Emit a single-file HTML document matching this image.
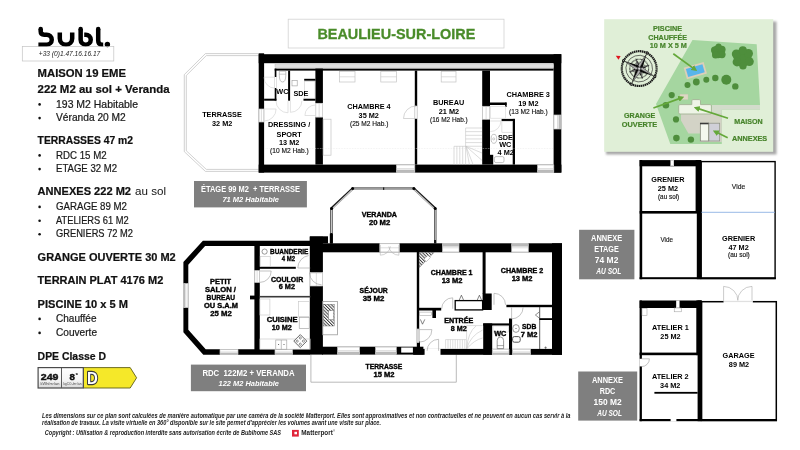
<!DOCTYPE html>
<html><head><meta charset="utf-8"><title>BEAULIEU-SUR-LOIRE</title>
<style>
html,body{margin:0;padding:0;background:#fff;}
body{width:800px;height:450px;overflow:hidden;position:relative;font-family:"Liberation Sans",sans-serif;}
svg{position:absolute;left:0;top:0;will-change:transform;}
text{font-family:"Liberation Sans",sans-serif;}
</style></head><body>
<svg width="800" height="450" viewBox="0 0 800 450">
<rect width="800" height="450" fill="#fff"/>
<g id="logo">
<path d="M40.7 28.95 V31.6 Q40.7 34.65 44.2 34.65 H46.7 A5.05 5.05 0 0 1 46.7 44.75 H38.4" fill="none" stroke="#000" stroke-width="4.5" stroke-linecap="butt"/>
<circle cx="40.7" cy="28.95" r="2.25" fill="#000"/>
<path d="M59.8 32.4 V38.55 A6.2 6.2 0 0 0 72.2 38.55 V32.4" fill="none" stroke="#000" stroke-width="4.5" />
<path d="M80.65 28.95 V39.7 A5.05 5.05 0 1 0 85.7 34.65 H84.2" fill="none" stroke="#000" stroke-width="4.5" />
<circle cx="80.65" cy="28.95" r="2.25" fill="#000"/>
<path d="M98.2 28.95 V40.6 Q98.2 44.75 102 44.75 H103.2" fill="none" stroke="#000" stroke-width="4.5" />
<circle cx="98.2" cy="28.95" r="2.25" fill="#000"/>
<circle cx="107.4" cy="44.5" r="2.7" fill="#000"/>
</g>
<rect x="22.3" y="46.4" width="91.5" height="14.6" fill="none" stroke="#c4c4c4" stroke-width="0.7"/>
<text x="38.80" y="55.90" font-size="6.4" font-weight="normal" font-style="italic" fill="#222" textLength="61.50" lengthAdjust="spacingAndGlyphs" >+33 (0)1.47.16.16.17</text>
<text x="37.60" y="77.30" font-size="11.2" font-weight="bold" font-style="normal" fill="#111" textLength="88.40" lengthAdjust="spacingAndGlyphs"  stroke="#111" stroke-width="0.22">MAISON 19 EME</text>
<text x="37.60" y="93.00" font-size="11.2" font-weight="bold" font-style="normal" fill="#111" textLength="132.00" lengthAdjust="spacingAndGlyphs"  stroke="#111" stroke-width="0.22">222 M2 au sol + Veranda</text>
<circle cx="39.6" cy="104.40" r="1.3" fill="#111"/>
<text x="56.00" y="107.50" font-size="10.3" font-weight="normal" font-style="normal" fill="#1a1a1a" textLength="82.00" lengthAdjust="spacingAndGlyphs"  stroke="#1a1a1a" stroke-width="0.22">193 M2 Habitable</text>
<circle cx="39.6" cy="118.10" r="1.3" fill="#111"/>
<text x="56.00" y="121.20" font-size="10.3" font-weight="normal" font-style="normal" fill="#1a1a1a" textLength="69.80" lengthAdjust="spacingAndGlyphs"  stroke="#1a1a1a" stroke-width="0.22">Véranda 20 M2</text>
<text x="37.60" y="144.00" font-size="11.2" font-weight="bold" font-style="normal" fill="#111" textLength="95.40" lengthAdjust="spacingAndGlyphs"  stroke="#111" stroke-width="0.22">TERRASSES 47 m2</text>
<circle cx="39.6" cy="155.40" r="1.3" fill="#111"/>
<text x="56.00" y="158.50" font-size="10.3" font-weight="normal" font-style="normal" fill="#1a1a1a" textLength="50.60" lengthAdjust="spacingAndGlyphs"  stroke="#1a1a1a" stroke-width="0.22">RDC 15 M2</text>
<circle cx="39.6" cy="169.10" r="1.3" fill="#111"/>
<text x="56.00" y="172.20" font-size="10.3" font-weight="normal" font-style="normal" fill="#1a1a1a" textLength="61.00" lengthAdjust="spacingAndGlyphs"  stroke="#1a1a1a" stroke-width="0.22">ETAGE 32 M2</text>
<text x="37.60" y="195.30" font-size="11.2" font-weight="bold" font-style="normal" fill="#111" textLength="93.40" lengthAdjust="spacingAndGlyphs"  stroke="#111" stroke-width="0.22">ANNEXES 222 M2</text>
<text x="135.00" y="195.30" font-size="11" font-weight="normal" font-style="normal" fill="#111" textLength="31.00" lengthAdjust="spacingAndGlyphs" >au sol</text>
<circle cx="39.6" cy="206.90" r="1.3" fill="#111"/>
<text x="56.00" y="210.00" font-size="10.3" font-weight="normal" font-style="normal" fill="#1a1a1a" textLength="71.00" lengthAdjust="spacingAndGlyphs"  stroke="#1a1a1a" stroke-width="0.22">GARAGE 89 M2</text>
<circle cx="39.6" cy="220.70" r="1.3" fill="#111"/>
<text x="56.00" y="223.80" font-size="10.3" font-weight="normal" font-style="normal" fill="#1a1a1a" textLength="72.70" lengthAdjust="spacingAndGlyphs"  stroke="#1a1a1a" stroke-width="0.22">ATELIERS 61 M2</text>
<circle cx="39.6" cy="234.30" r="1.3" fill="#111"/>
<text x="56.00" y="237.40" font-size="10.3" font-weight="normal" font-style="normal" fill="#1a1a1a" textLength="77.00" lengthAdjust="spacingAndGlyphs"  stroke="#1a1a1a" stroke-width="0.22">GRENIERS 72 M2</text>
<text x="37.60" y="261.00" font-size="11.2" font-weight="bold" font-style="normal" fill="#111" textLength="138.10" lengthAdjust="spacingAndGlyphs"  stroke="#111" stroke-width="0.22">GRANGE OUVERTE 30 M2</text>
<text x="37.60" y="284.00" font-size="11.2" font-weight="bold" font-style="normal" fill="#111" textLength="125.70" lengthAdjust="spacingAndGlyphs"  stroke="#111" stroke-width="0.22">TERRAIN PLAT 4176 M2</text>
<text x="37.60" y="307.80" font-size="11.2" font-weight="bold" font-style="normal" fill="#111" textLength="90.40" lengthAdjust="spacingAndGlyphs"  stroke="#111" stroke-width="0.22">PISCINE 10 x 5 M</text>
<circle cx="39.6" cy="318.90" r="1.3" fill="#111"/>
<text x="56.00" y="322.00" font-size="10.3" font-weight="normal" font-style="normal" fill="#1a1a1a" textLength="40.50" lengthAdjust="spacingAndGlyphs"  stroke="#1a1a1a" stroke-width="0.22">Chauffée</text>
<circle cx="39.6" cy="332.90" r="1.3" fill="#111"/>
<text x="56.00" y="336.00" font-size="10.3" font-weight="normal" font-style="normal" fill="#1a1a1a" textLength="41.00" lengthAdjust="spacingAndGlyphs"  stroke="#1a1a1a" stroke-width="0.22">Couverte</text>
<text x="37.60" y="359.50" font-size="11.2" font-weight="bold" font-style="normal" fill="#111" textLength="68.40" lengthAdjust="spacingAndGlyphs"  stroke="#111" stroke-width="0.22">DPE Classe D</text>
<g id="dpe">
<path d="M83.5 367.6 H130.2 L136.6 377.8 L130.2 388 H83.5 Z" fill="#f5e829" stroke="#5f5e18" stroke-width="0.9" />
<defs><linearGradient id="dg" x1="0" y1="0" x2="0" y2="1"><stop offset="0" stop-color="#fff"/><stop offset="0.6" stop-color="#f6f6f6"/><stop offset="1" stop-color="#d9d9d9"/></linearGradient></defs>
<rect x="38.1" y="367.6" width="45.2" height="20.4" fill="url(#dg)" stroke="#4a4a4a" stroke-width="1.2"/>
<line x1="61.5" y1="368" x2="61.5" y2="387.8" stroke="#4a4a4a" stroke-width="0.9"/>
<text x="40.80" y="379.90" font-size="8.9" font-weight="bold" font-style="normal" fill="#111" textLength="17.60" lengthAdjust="spacingAndGlyphs"  stroke="#111" stroke-width="0.4">249</text>
<text x="69.40" y="379.90" font-size="8.9" font-weight="bold" font-style="normal" fill="#111" textLength="5.40" lengthAdjust="spacingAndGlyphs"  stroke="#111" stroke-width="0.4">8</text>
<text x="75.40" y="377.00" font-size="5.4" font-weight="bold" font-style="normal" fill="#111" textLength="2.60" lengthAdjust="spacingAndGlyphs" >*</text>
<text x="40.50" y="385.00" font-size="2.8" font-weight="normal" font-style="normal" fill="#444" textLength="19.00" lengthAdjust="spacingAndGlyphs" >kWh/m²/an</text>
<text x="63.50" y="385.00" font-size="2.8" font-weight="normal" font-style="normal" fill="#444" textLength="18.00" lengthAdjust="spacingAndGlyphs" >kgCO₂/m²/an</text>
<text x="87" y="384.4" font-size="17.2" font-weight="bold" fill="#fff" stroke="#3a3a3a" stroke-width="2.3" stroke-linejoin="round" textLength="10.8" lengthAdjust="spacingAndGlyphs" paint-order="stroke">D</text>
</g>
<text x="42.00" y="417.90" font-size="6.5" font-weight="bold" font-style="italic" fill="#222" textLength="528.50" lengthAdjust="spacingAndGlyphs" >Les dimensions sur ce plan sont calculées de manière automatique par une caméra de la société Matterport. Elles sont approximatives et non contractuelles et ne peuvent en aucun cas servir à la</text>
<text x="42.00" y="425.40" font-size="6.5" font-weight="bold" font-style="italic" fill="#222" textLength="339.00" lengthAdjust="spacingAndGlyphs" >réalisation de travaux. La visite virtuelle en 360° disponible sur le site permet d'apprécier les volumes avant une visite sur place.</text>
<text x="44.80" y="435.20" font-size="6.5" font-weight="bold" font-style="italic" fill="#222" textLength="236.20" lengthAdjust="spacingAndGlyphs" >Copyright : Utilisation &amp; reproduction interdite sans autorisation écrite de Bublhome SAS</text>
<rect x="292" y="429.9" width="6.8" height="6.7" fill="#e0253a"/>
<rect x="294.4" y="431.8" width="2.6" height="2.5" fill="#fff"/>
<text x="301.30" y="435.10" font-size="6.5" font-weight="bold" font-style="normal" fill="#222" textLength="31.50" lengthAdjust="spacingAndGlyphs" >Matterport</text>
<text x="333.00" y="431.80" font-size="2.6" font-weight="normal" font-style="normal" fill="#222" textLength="2.00" lengthAdjust="spacingAndGlyphs" >®</text>
<rect x="288.2" y="19.2" width="215.8" height="28.8" fill="#fff" stroke="#d2d2d2" stroke-width="0.8"/>
<text x="317.40" y="38.70" font-size="15.3" font-weight="bold" font-style="normal" fill="#4a8c2a" textLength="158.00" lengthAdjust="spacingAndGlyphs"  stroke="#4a8c2a" stroke-width="0.3">BEAULIEU-SUR-LOIRE</text>
<rect x="194.00" y="181.00" width="112.90" height="26.40" fill="#7f7f7f" />
<text x="201.00" y="192.10" font-size="8.2" font-weight="bold" font-style="normal" fill="#fff" textLength="99.00" lengthAdjust="spacingAndGlyphs" >ÉTAGE 99 M2  + TERRASSE</text>
<text x="222.40" y="202.30" font-size="8.1" font-weight="bold" font-style="italic" fill="#fff" textLength="56.60" lengthAdjust="spacingAndGlyphs" >71 M2 Habitable</text>
<rect x="190.90" y="364.60" width="115.10" height="26.60" fill="#7f7f7f" />
<text x="202.40" y="375.70" font-size="8.2" font-weight="bold" font-style="normal" fill="#fff" textLength="92.20" lengthAdjust="spacingAndGlyphs" >RDC  122M2 + VERANDA</text>
<text x="218.50" y="385.80" font-size="8.1" font-weight="bold" font-style="italic" fill="#fff" textLength="60.50" lengthAdjust="spacingAndGlyphs" >122 M2 Habitable</text>
<rect x="579.10" y="229.80" width="55.30" height="49.50" fill="#7f7f7f" />
<text x="591.10" y="241.30" font-size="8.2" font-weight="bold" font-style="normal" fill="#fff" textLength="31.00" lengthAdjust="spacingAndGlyphs" >ANNEXE</text>
<text x="594.35" y="252.20" font-size="8.2" font-weight="bold" font-style="normal" fill="#fff" textLength="24.50" lengthAdjust="spacingAndGlyphs" >ETAGE</text>
<text x="594.85" y="263.10" font-size="8.2" font-weight="bold" font-style="normal" fill="#fff" textLength="23.50" lengthAdjust="spacingAndGlyphs" >74 M2</text>
<text x="596.30" y="273.70" font-size="8.2" font-weight="bold" font-style="italic" fill="#fff" textLength="25.00" lengthAdjust="spacingAndGlyphs" >AU SOL</text>
<rect x="578.20" y="371.50" width="59.00" height="49.10" fill="#7f7f7f" />
<text x="592.00" y="382.70" font-size="8.2" font-weight="bold" font-style="normal" fill="#fff" textLength="31.00" lengthAdjust="spacingAndGlyphs" >ANNEXE</text>
<text x="599.70" y="393.50" font-size="8.2" font-weight="bold" font-style="normal" fill="#fff" textLength="15.60" lengthAdjust="spacingAndGlyphs" >RDC</text>
<text x="593.60" y="404.90" font-size="8.2" font-weight="bold" font-style="normal" fill="#fff" textLength="28.00" lengthAdjust="spacingAndGlyphs" >150 M2</text>
<text x="597.20" y="415.50" font-size="8.2" font-weight="bold" font-style="italic" fill="#fff" textLength="24.80" lengthAdjust="spacingAndGlyphs" >AU SOL</text>
<g id="etage">
<path d="M258.6 53.6 H205.4 L184.3 74.6 V151.7 L205.4 171.4 H258.6" fill="none" stroke="#bdbdbd" stroke-width="0.7" />
<path d="M258.6 55.6 H206.3 L186.3 75.5 V150.79999999999998 L206.3 169.4 H258.6" fill="none" stroke="#bdbdbd" stroke-width="0.7" />
<text x="222.00" y="116.60" font-size="7.3" font-weight="bold" font-style="normal" fill="#000" text-anchor="middle" >TERRASSE</text>
<text x="222.20" y="125.90" font-size="7.3" font-weight="bold" font-style="normal" fill="#000" text-anchor="middle" >32 M2</text>
<rect x="258.70" y="54.20" width="302.60" height="9.00" fill="#000" />
<rect x="258.70" y="53.30" width="5.40" height="119.30" fill="#000" />
<rect x="553.60" y="54.20" width="7.70" height="118.40" fill="#000" />
<rect x="258.70" y="164.60" width="302.70" height="8.00" fill="#000" />
<rect x="275" y="64.6" width="278.6" height="2.8" fill="#e0e0e0" stroke="#b4b4b4" stroke-width="0.4"/>
<rect x="274.70" y="68.60" width="278.90" height="2.00" fill="#000" />
<rect x="274.70" y="68.60" width="1.70" height="32.10" fill="#000" />
<rect x="264.10" y="98.70" width="12.30" height="2.00" fill="#000" />
<rect x="288.10" y="70.60" width="2.00" height="30.10" fill="#000" />
<rect x="303.50" y="98.70" width="11.90" height="2.00" fill="#000" />
<rect x="315.40" y="68.60" width="7.50" height="34.70" fill="#000" />
<rect x="304.20" y="78.80" width="11.20" height="1.90" fill="#000" />
<rect x="315.40" y="117.10" width="7.50" height="47.50" fill="#000" />
<rect x="414.80" y="70.60" width="2.40" height="94.00" fill="#000" />
<rect x="482.20" y="70.60" width="7.80" height="94.00" fill="#000" />
<rect x="490.00" y="102.50" width="16.60" height="2.50" fill="#000" />
<rect x="505.10" y="102.50" width="1.50" height="4.50" fill="#000" />
<rect x="501.60" y="118.90" width="13.40" height="2.10" fill="#000" />
<rect x="512.70" y="118.90" width="2.30" height="45.70" fill="#000" />
</g>
<g id="etage-gaps">
<rect x="258.70" y="109.00" width="5.40" height="13.00" fill="#fff" />
<rect x="259.10" y="109.00" width="4.60" height="13.00" fill="none" stroke="#c4c4c4" stroke-width="0.7"/>
<line x1="261.40" y1="109.00" x2="261.40" y2="122.00" stroke="#c4c4c4" stroke-width="0.6"/>
<rect x="274.40" y="77.00" width="2.30" height="11.00" fill="#fff" />
<rect x="315.40" y="103.30" width="7.50" height="13.80" fill="#fff" />
<rect x="315.80" y="103.30" width="6.70" height="13.80" fill="none" stroke="#c4c4c4" stroke-width="0.7"/>
<line x1="319.15" y1="103.30" x2="319.15" y2="117.10" stroke="#c4c4c4" stroke-width="0.6"/>
<rect x="414.50" y="106.00" width="3.00" height="12.50" fill="#fff" />
<rect x="414.9" y="106" width="2.2" height="12.5" fill="#fff" stroke="#c4c4c4" stroke-width="0.6"/>
<rect x="482.20" y="106.30" width="7.80" height="13.00" fill="#fff" />
<rect x="482.60" y="106.30" width="7.00" height="13.00" fill="none" stroke="#c4c4c4" stroke-width="0.7"/>
<line x1="486.10" y1="106.30" x2="486.10" y2="119.30" stroke="#c4c4c4" stroke-width="0.6"/>
<rect x="490.3" y="106.6" width="15" height="11.6" fill="none" stroke="#d6d6d6" stroke-width="0.6"/>
<rect x="553.60" y="115.00" width="7.80" height="14.00" fill="#fff" />
<rect x="558.59" y="115.00" width="2.81" height="14.00" fill="#b9b9b9" />
<rect x="554.00" y="115.00" width="7.00" height="14.00" fill="none" stroke="#c4c4c4" stroke-width="0.7"/>
<line x1="557.50" y1="115.00" x2="557.50" y2="129.00" stroke="#c4c4c4" stroke-width="0.6"/>
<rect x="396.50" y="164.60" width="18.30" height="8.00" fill="#fff" />
<rect x="396.50" y="169.72" width="18.30" height="2.88" fill="#b9b9b9" />
<rect x="396.50" y="165.00" width="18.30" height="7.20" fill="none" stroke="#c4c4c4" stroke-width="0.7"/>
<line x1="396.50" y1="168.60" x2="414.80" y2="168.60" stroke="#c4c4c4" stroke-width="0.6"/>
<rect x="537.60" y="164.60" width="16.20" height="8.00" fill="#fff" />
<rect x="537.60" y="169.72" width="16.20" height="2.88" fill="#b9b9b9" />
<rect x="537.60" y="165.00" width="16.20" height="7.20" fill="none" stroke="#c4c4c4" stroke-width="0.7"/>
<line x1="537.60" y1="168.60" x2="553.80" y2="168.60" stroke="#c4c4c4" stroke-width="0.6"/>
<rect x="339.6" y="71.6" width="15.4" height="10.4" fill="#fff" stroke="#c4c4c4" stroke-width="0.7"/>
<line x1="339.6" y1="76.8" x2="355" y2="76.8" stroke="#c4c4c4" stroke-width="0.6"/>
<rect x="380.8" y="71.6" width="15.6" height="10.4" fill="#fff" stroke="#c4c4c4" stroke-width="0.7"/>
<line x1="380.8" y1="76.8" x2="396.4" y2="76.8" stroke="#c4c4c4" stroke-width="0.6"/>
<rect x="441.2" y="71.6" width="14.8" height="10.4" fill="#fff" stroke="#c4c4c4" stroke-width="0.7"/>
<line x1="441.2" y1="76.8" x2="456" y2="76.8" stroke="#c4c4c4" stroke-width="0.6"/>
<rect x="323.2" y="119.2" width="7.8" height="36" fill="none" stroke="#c4c4c4" stroke-width="0.7"/>
<line x1="264" y1="148.5" x2="553" y2="148.5" stroke="#e4e4e4" stroke-width="0.5" stroke-dasharray="0.8 0.8"/>
<path d="M275.00 77.20 L264.00 77.20 A11 11 0 0 0 275.00 88.20" fill="none" stroke="#cfcfcf" stroke-width="0.6" />
<path d="M288.00 100.80 L288.00 112.80 A12 12 0 0 1 276.00 100.80" fill="none" stroke="#cfcfcf" stroke-width="0.6" />
<path d="M290.40 100.80 L290.40 112.30 A11.5 11.5 0 0 0 301.90 100.80" fill="none" stroke="#cfcfcf" stroke-width="0.6" />
<path d="M264.10 109.00 L276.10 109.00 A12 12 0 0 1 264.10 121.00" fill="none" stroke="#cfcfcf" stroke-width="0.6" />
<path d="M315.40 115.50 L304.90 115.50 A10.5 10.5 0 0 1 315.40 105.00" fill="none" stroke="#cfcfcf" stroke-width="0.6" />
<path d="M416.00 118.50 L403.50 118.50 A12.5 12.5 0 0 1 416.00 106.00" fill="none" stroke="#b8b8b8" stroke-width="0.6" />
<path d="M490.30 121.00 L500.90 121.00 A10.6 10.6 0 0 1 490.30 131.60" fill="none" stroke="#cfcfcf" stroke-width="0.6" />
<path d="M279.3 71.2 H285.8 V75 Q285.8 82 282.55 82 Q279.3 82 279.3 75 Z" fill="none" stroke="#9a9a9a" stroke-width="0.6" />
<line x1="279.3" y1="74.2" x2="285.8" y2="74.2" stroke="#9a9a9a" stroke-width="0.5"/>
<rect x="292" y="80.5" width="5.2" height="5.4" fill="none" stroke="#9a9a9a" stroke-width="0.6"/>
<rect x="304.4" y="81.2" width="10.6" height="17" fill="none" stroke="#c4c4c4" stroke-width="0.5"/>
<line x1="465.6" y1="128.00" x2="482" y2="128.00" stroke="#c4c4c4" stroke-width="0.6"/>
<line x1="465.6" y1="131.65" x2="482" y2="131.65" stroke="#c4c4c4" stroke-width="0.6"/>
<line x1="465.6" y1="135.30" x2="482" y2="135.30" stroke="#c4c4c4" stroke-width="0.6"/>
<line x1="465.6" y1="138.95" x2="482" y2="138.95" stroke="#c4c4c4" stroke-width="0.6"/>
<line x1="465.6" y1="142.60" x2="482" y2="142.60" stroke="#c4c4c4" stroke-width="0.6"/>
<line x1="465.6" y1="146.25" x2="482" y2="146.25" stroke="#c4c4c4" stroke-width="0.6"/>
<line x1="465.6" y1="128" x2="465.6" y2="146.3" stroke="#c4c4c4" stroke-width="0.6"/>
<line x1="454.00" y1="146.3" x2="454.00" y2="164.4" stroke="#c4c4c4" stroke-width="0.6"/>
<line x1="456.90" y1="146.3" x2="456.90" y2="164.4" stroke="#c4c4c4" stroke-width="0.6"/>
<line x1="459.80" y1="146.3" x2="459.80" y2="164.4" stroke="#c4c4c4" stroke-width="0.6"/>
<line x1="462.70" y1="146.3" x2="462.70" y2="164.4" stroke="#c4c4c4" stroke-width="0.6"/>
<line x1="465.60" y1="146.3" x2="465.60" y2="164.4" stroke="#c4c4c4" stroke-width="0.6"/>
<line x1="454" y1="146.3" x2="466" y2="146.3" stroke="#c4c4c4" stroke-width="0.6"/>
<path d="M466 146.3 L482 153 M466 146.3 L482 160.4 M466 146.3 L473 164.4 M466 146.3 L469.4 164.4" fill="none" stroke="#c4c4c4" stroke-width="0.6" />
<ellipse cx="493.9" cy="138.8" rx="2.8" ry="4.5" fill="none" stroke="#9a9a9a" stroke-width="0.6"/>
<circle cx="493.7" cy="138.9" r="1.1" fill="none" stroke="#9a9a9a" stroke-width="0.5"/>
<rect x="494.4" y="156.6" width="9.6" height="6" rx="1.6" fill="none" stroke="#9a9a9a" stroke-width="0.6"/>
<rect x="501.9" y="121.2" width="10.6" height="11" fill="none" stroke="#c4c4c4" stroke-width="0.5"/>
<rect x="490.00" y="154.80" width="3.20" height="9.80" fill="#000" />
</g>
<g id="etage-text">
<text x="282.40" y="94.20" font-size="7.3" font-weight="bold" font-style="normal" fill="#000" text-anchor="middle" >WC</text>
<text x="300.90" y="96.00" font-size="7.3" font-weight="bold" font-style="normal" fill="#000" text-anchor="middle" >SDE</text>
<text x="289.15" y="127.30" font-size="7.3" font-weight="bold" font-style="normal" fill="#000" text-anchor="middle" >DRESSING /</text>
<text x="289.15" y="136.50" font-size="7.3" font-weight="bold" font-style="normal" fill="#000" text-anchor="middle" >SPORT</text>
<text x="289.20" y="144.90" font-size="7.3" font-weight="bold" font-style="normal" fill="#000" text-anchor="middle" >13 M2</text>
<text x="270.00" y="153.40" font-size="6.6" font-weight="normal" font-style="normal" fill="#151515" textLength="38.70" lengthAdjust="spacingAndGlyphs"  stroke="#151515" stroke-width="0.15">(10 M2 Hab.)</text>
<text x="369.00" y="108.50" font-size="7.3" font-weight="bold" font-style="normal" fill="#000" text-anchor="middle" >CHAMBRE 4</text>
<text x="368.75" y="117.50" font-size="7.3" font-weight="bold" font-style="normal" fill="#000" text-anchor="middle" >35 M2</text>
<text x="350.00" y="125.80" font-size="6.6" font-weight="normal" font-style="normal" fill="#151515" textLength="38.40" lengthAdjust="spacingAndGlyphs"  stroke="#151515" stroke-width="0.15">(25 M2 Hab.)</text>
<text x="448.65" y="104.80" font-size="7.3" font-weight="bold" font-style="normal" fill="#000" text-anchor="middle" >BUREAU</text>
<text x="448.90" y="113.50" font-size="7.3" font-weight="bold" font-style="normal" fill="#000" text-anchor="middle" >21 M2</text>
<text x="430.00" y="121.60" font-size="6.6" font-weight="normal" font-style="normal" fill="#151515" textLength="37.70" lengthAdjust="spacingAndGlyphs"  stroke="#151515" stroke-width="0.15">(16 M2 Hab.)</text>
<text x="528.20" y="96.90" font-size="7.3" font-weight="bold" font-style="normal" fill="#000" text-anchor="middle" >CHAMBRE 3</text>
<text x="528.30" y="105.90" font-size="7.3" font-weight="bold" font-style="normal" fill="#000" text-anchor="middle" >19 M2</text>
<text x="509.00" y="113.70" font-size="6.6" font-weight="normal" font-style="normal" fill="#151515" textLength="38.60" lengthAdjust="spacingAndGlyphs"  stroke="#151515" stroke-width="0.15">(13 M2 Hab.)</text>
<text x="505.50" y="139.60" font-size="7.3" font-weight="bold" font-style="normal" fill="#000" text-anchor="middle" >SDE</text>
<text x="505.30" y="147.20" font-size="7.3" font-weight="bold" font-style="normal" fill="#000" text-anchor="middle" >WC</text>
<text x="505.70" y="155.20" font-size="7.3" font-weight="bold" font-style="normal" fill="#000" text-anchor="middle" >4 M2</text>
</g>
<g id="rdc">
<path d="M331.4 243.5 V208.4 L352.6 188.6 H413.9 L435.2 208.4 V243.5" fill="none" stroke="#1a1a1a" stroke-width="2.4" stroke-linejoin="round"/>
<path d="M331.4 233 V209.6 L353 189 H413.5 L435.2 209.6 V240" fill="none" stroke="#c6c6c6" stroke-width="1.3" />
<rect x="329.80" y="233.50" width="3.10" height="10.00" fill="#000" />
<circle cx="331.6" cy="208.4" r="1.5" fill="#000"/>
<circle cx="352.6" cy="188.6" r="1.5" fill="#000"/>
<circle cx="413.9" cy="188.6" r="1.5" fill="#000"/>
<circle cx="435.2" cy="208.4" r="1.5" fill="#000"/>
<rect x="383.20" y="187.40" width="1.00" height="2.50" fill="#000" />
<text x="361.80" y="216.50" font-size="6.4" font-weight="bold" font-style="normal" fill="#000" textLength="35.20" lengthAdjust="spacingAndGlyphs"  stroke="#000" stroke-width="0.32">VERANDA</text>
<text x="368.95" y="224.50" font-size="6.4" font-weight="bold" font-style="normal" fill="#000" textLength="21.30" lengthAdjust="spacingAndGlyphs"  stroke="#000" stroke-width="0.32">20 M2</text>
<path d="M310.9 354.5 V382.2 H456.3 V354.5" fill="none" stroke="#a8a8a8" stroke-width="0.8" />
<text x="365.60" y="369.00" font-size="6.4" font-weight="bold" font-style="normal" fill="#000" textLength="36.80" lengthAdjust="spacingAndGlyphs"  stroke="#000" stroke-width="0.32">TERRASSE</text>
<text x="373.50" y="377.00" font-size="6.4" font-weight="bold" font-style="normal" fill="#000" textLength="21.00" lengthAdjust="spacingAndGlyphs"  stroke="#000" stroke-width="0.32">15 M2</text>
<path d="M202.9 240.7 H310 V245.9 H205.1 L188.3 264.8 V329.7 L205.7 349.3 H310 V354.7 H203.3 L183.4 332.2 V262 Z" fill="#000" stroke="none" stroke-width="1" />
<rect x="309.80" y="236.70" width="13.10" height="117.90" fill="#000" />
<rect x="309.80" y="236.30" width="18.20" height="7.10" fill="#000" />
<rect x="322.00" y="243.30" width="240.00" height="9.00" fill="#000" />
<rect x="552.00" y="243.30" width="10.00" height="111.50" fill="#000" />
<rect x="322.00" y="346.70" width="101.40" height="7.90" fill="#000" />
<rect x="417.00" y="341.40" width="3.00" height="5.60" fill="#000" />
<rect x="413.20" y="348.90" width="148.80" height="5.90" fill="#000" />
<rect x="254.40" y="245.00" width="5.40" height="105.00" fill="#000" />
<rect x="250.00" y="295.60" width="5.00" height="3.80" fill="#000" />
<rect x="259.00" y="266.80" width="36.80" height="2.00" fill="#000" />
<rect x="259.80" y="295.90" width="50.70" height="1.60" fill="#3a3a3a" />
<rect x="416.80" y="252.00" width="2.40" height="95.00" fill="#000" />
<rect x="482.60" y="252.00" width="3.00" height="42.00" fill="#000" />
<rect x="482.60" y="293.50" width="9.10" height="16.50" fill="#000" />
<rect x="419.00" y="307.80" width="22.20" height="2.70" fill="#000" />
<rect x="455.2" y="300.6" width="27.4" height="9.3" fill="#fff" stroke="#000" stroke-width="1.3"/>
<path d="M459.2 300.2 L461.4 295.2 L463.6 300.2 M477.2 300.2 L479.4 295.2 L481.6 300.2" fill="none" stroke="#333" stroke-width="0.6" />
<rect x="432.40" y="310.00" width="3.60" height="8.00" fill="#000" />
<rect x="419.6" y="312.1" width="12" height="3.4" fill="none" stroke="#9a9a9a" stroke-width="0.5"/>
<rect x="506.40" y="304.80" width="46.10" height="2.40" fill="#000" />
<rect x="483.20" y="323.40" width="9.00" height="31.20" fill="#000" />
<rect x="483.20" y="323.40" width="27.30" height="2.20" fill="#000" />
<rect x="509.00" y="318.50" width="3.10" height="36.10" fill="#000" />
</g>
<g id="rdc-gaps">
<rect x="183.40" y="283.60" width="4.90" height="24.00" fill="#fff" />
<rect x="183.40" y="283.60" width="1.76" height="24.00" fill="#b9b9b9" />
<rect x="183.80" y="283.60" width="4.10" height="24.00" fill="none" stroke="#c4c4c4" stroke-width="0.7"/>
<line x1="185.85" y1="283.60" x2="185.85" y2="307.60" stroke="#c4c4c4" stroke-width="0.6"/>
<rect x="220.00" y="349.30" width="18.00" height="5.40" fill="#fff" />
<rect x="220.00" y="352.76" width="18.00" height="1.94" fill="#b9b9b9" />
<rect x="220.00" y="349.70" width="18.00" height="4.60" fill="none" stroke="#c4c4c4" stroke-width="0.7"/>
<line x1="220.00" y1="352.00" x2="238.00" y2="352.00" stroke="#c4c4c4" stroke-width="0.6"/>
<rect x="275.00" y="349.30" width="17.50" height="5.40" fill="#fff" />
<rect x="275.00" y="352.76" width="17.50" height="1.94" fill="#b9b9b9" />
<rect x="275.00" y="349.70" width="17.50" height="4.60" fill="none" stroke="#c4c4c4" stroke-width="0.7"/>
<line x1="275.00" y1="352.00" x2="292.50" y2="352.00" stroke="#c4c4c4" stroke-width="0.6"/>
<rect x="337.60" y="346.70" width="21.90" height="7.90" fill="#fff" />
<rect x="337.60" y="351.76" width="21.90" height="2.84" fill="#b9b9b9" />
<rect x="337.60" y="347.10" width="21.90" height="7.10" fill="none" stroke="#c4c4c4" stroke-width="0.7"/>
<line x1="337.60" y1="350.65" x2="359.50" y2="350.65" stroke="#c4c4c4" stroke-width="0.6"/>
<rect x="375.60" y="346.70" width="20.70" height="7.90" fill="#fff" />
<rect x="375.60" y="351.76" width="20.70" height="2.84" fill="#b9b9b9" />
<rect x="375.60" y="347.10" width="20.70" height="7.10" fill="none" stroke="#c4c4c4" stroke-width="0.7"/>
<line x1="375.60" y1="350.65" x2="396.30" y2="350.65" stroke="#c4c4c4" stroke-width="0.6"/>
<rect x="401.20" y="347.50" width="11.70" height="5.10" fill="#fff" />
<rect x="424.60" y="348.50" width="15.90" height="6.50" fill="#fff" />
<rect x="492.30" y="349.00" width="16.70" height="5.80" fill="#fff" />
<rect x="492.30" y="352.71" width="16.70" height="2.09" fill="#b9b9b9" />
<rect x="492.30" y="349.40" width="16.70" height="5.00" fill="none" stroke="#c4c4c4" stroke-width="0.7"/>
<line x1="492.30" y1="351.90" x2="509.00" y2="351.90" stroke="#c4c4c4" stroke-width="0.6"/>
<rect x="512.50" y="349.00" width="18.00" height="5.80" fill="#fff" />
<rect x="512.50" y="352.71" width="18.00" height="2.09" fill="#b9b9b9" />
<rect x="512.50" y="349.40" width="18.00" height="5.00" fill="none" stroke="#c4c4c4" stroke-width="0.7"/>
<line x1="512.50" y1="351.90" x2="530.50" y2="351.90" stroke="#c4c4c4" stroke-width="0.6"/>
<rect x="379.80" y="243.30" width="19.50" height="9.00" fill="#fff" />
<rect x="379.80" y="243.70" width="19.50" height="8.20" fill="none" stroke="#c4c4c4" stroke-width="0.7"/>
<line x1="379.80" y1="247.80" x2="399.30" y2="247.80" stroke="#c4c4c4" stroke-width="0.6"/>
<rect x="442.50" y="243.30" width="16.50" height="9.00" fill="#fff" />
<rect x="442.50" y="243.30" width="16.50" height="3.24" fill="#b9b9b9" />
<rect x="442.50" y="243.70" width="16.50" height="8.20" fill="none" stroke="#c4c4c4" stroke-width="0.7"/>
<line x1="442.50" y1="247.80" x2="459.00" y2="247.80" stroke="#c4c4c4" stroke-width="0.6"/>
<rect x="511.70" y="243.30" width="16.60" height="9.00" fill="#fff" />
<rect x="511.70" y="243.30" width="16.60" height="3.24" fill="#b9b9b9" />
<rect x="511.70" y="243.70" width="16.60" height="8.20" fill="none" stroke="#c4c4c4" stroke-width="0.7"/>
<line x1="511.70" y1="247.80" x2="528.30" y2="247.80" stroke="#c4c4c4" stroke-width="0.6"/>
<rect x="254.40" y="270.50" width="5.40" height="12.00" fill="#fff" />
<rect x="254.80" y="270.50" width="4.60" height="12.00" fill="none" stroke="#c4c4c4" stroke-width="0.7"/>
<line x1="257.10" y1="270.50" x2="257.10" y2="282.50" stroke="#c4c4c4" stroke-width="0.6"/>
<rect x="309.80" y="272.40" width="13.10" height="13.60" fill="#fff" />
<rect x="310.20" y="272.40" width="12.30" height="13.60" fill="none" stroke="#c4c4c4" stroke-width="0.7"/>
<line x1="316.35" y1="272.40" x2="316.35" y2="286.00" stroke="#c4c4c4" stroke-width="0.6"/>
<rect x="416.80" y="329.00" width="2.40" height="13.50" fill="#fff" />
<rect x="417.20" y="329.00" width="1.60" height="13.50" fill="none" stroke="#c4c4c4" stroke-width="0.7"/>
<line x1="418.00" y1="329.00" x2="418.00" y2="342.50" stroke="#c4c4c4" stroke-width="0.6"/>
<path d="M259.80 271.00 L271.20 271.00 A11.4 11.4 0 0 1 259.80 282.40" fill="none" stroke="#9a9a9a" stroke-width="0.6" />
<path d="M310.30 268.00 L297.80 268.00 A12.5 12.5 0 0 1 308.56 255.62" fill="none" stroke="#9a9a9a" stroke-width="0.6" />
<path d="M321.60 272.80 L309.60 272.80 A12 12 0 0 0 321.60 284.80" fill="none" stroke="#9a9a9a" stroke-width="0.6" />
<path d="M380.30 245.00 L380.30 255.20 A10.2 10.2 0 0 0 390.40 246.42" fill="none" stroke="#b4b4b4" stroke-width="0.6" />
<path d="M398.90 245.00 L398.90 255.20 A10.2 10.2 0 0 1 388.80 246.42" fill="none" stroke="#b4b4b4" stroke-width="0.6" />
<path d="M452.70 308.80 L452.70 297.80 A11 11 0 0 0 441.70 308.80" fill="none" stroke="#9a9a9a" stroke-width="0.6" />
<path d="M494.00 304.80 L494.00 293.30 A11.5 11.5 0 0 1 505.50 304.80" fill="none" stroke="#9a9a9a" stroke-width="0.6" />
<path d="M511.60 307.40 L511.60 318.90 A11.5 11.5 0 0 0 523.10 307.40" fill="none" stroke="#9a9a9a" stroke-width="0.6" />
<path d="M419.40 329.60 L431.90 329.60 A12.5 12.5 0 0 1 419.40 342.10" fill="none" stroke="#9a9a9a" stroke-width="0.6" />
<path d="M438.60 350.80 L438.60 339.30 A11.5 11.5 0 0 0 427.10 350.80" fill="none" stroke="#9a9a9a" stroke-width="0.6" />
<path d="M420.4 319.4 L422.5 324.2 L424.8 319.4" fill="none" stroke="#333" stroke-width="0.6" />
<path d="M723.6 301 V286.4 A14.4 14.6 0 0 1 738 301 M752 301 V286.4 A14.4 14.6 0 0 0 737.6 301" fill="none" stroke="#a8a8a8" stroke-width="0.6" />
<rect x="322.8" y="301.4" width="14.6" height="33.4" fill="#fff" stroke="#9c9c9c" stroke-width="0.8"/>
<defs><pattern id="h" width="2.3" height="2.3" patternUnits="userSpaceOnUse" patternTransform="rotate(-45)"><rect width="2.3" height="2.3" fill="#fff"/><line x1="0.5" y1="0" x2="0.5" y2="2.3" stroke="#2a2a2a" stroke-width="0.9"/></pattern></defs>
<rect x="323.4" y="304.2" width="10.8" height="21.8" fill="url(#h)" stroke="#666" stroke-width="0.4"/>
<rect x="328.6" y="310.6" width="5" height="9" fill="#fff" stroke="#777" stroke-width="0.5"/>
<path d="M419.2 252.4 H434 L419.2 267.6 Z" fill="url(#h)" stroke="#555" stroke-width="0.5" />
<path d="M424 259.2 L428 255.2 L430.4 257.6 L426.4 261.6 Z" fill="#fff" stroke="#777" stroke-width="0.4" />
<rect x="259.9" y="299" width="10" height="16" fill="none" stroke="#c4c4c4" stroke-width="0.6"/>
<rect x="259.9" y="339" width="50.3" height="10.2" fill="none" stroke="#c4c4c4" stroke-width="0.6"/>
<rect x="275.8" y="340" width="11" height="9.2" fill="#fff" stroke="#9a9a9a" stroke-width="0.6"/>
<line x1="281.3" y1="340" x2="281.3" y2="349.2" stroke="#9a9a9a" stroke-width="0.6"/>
<circle cx="278.6" cy="344.4" r="0.5" fill="#333"/><circle cx="284" cy="344.4" r="0.5" fill="#333"/>
<rect x="298.4" y="301.6" width="11" height="15" fill="none" stroke="#c4c4c4" stroke-width="0.6"/>
<rect x="299.2" y="317.6" width="10" height="10.8" fill="none" stroke="#9a9a9a" stroke-width="0.6"/>
<g transform="translate(300.3 341.1) rotate(45)"><rect x="-4.6" y="-4.6" width="9.2" height="9.2" fill="#fff" stroke="#333" stroke-width="0.7"/><circle cx="-2.2" cy="-2.2" r="1.1" fill="none" stroke="#333" stroke-width="0.5"/><circle cx="2.2" cy="-2.2" r="1.1" fill="none" stroke="#333" stroke-width="0.5"/><circle cx="-2.2" cy="2.2" r="1.1" fill="none" stroke="#333" stroke-width="0.5"/><circle cx="2.2" cy="2.2" r="1.1" fill="none" stroke="#333" stroke-width="0.5"/></g>
<circle cx="264.6" cy="251.6" r="2.6" fill="none" stroke="#555" stroke-width="0.6"/>
<rect x="260.2" y="256.6" width="10" height="10" fill="none" stroke="#c4c4c4" stroke-width="0.6"/>
<line x1="445.6" y1="339.6" x2="445.6" y2="348.8" stroke="#c4c4c4" stroke-width="0.6"/>
<line x1="448.0" y1="339.6" x2="448.0" y2="348.8" stroke="#c4c4c4" stroke-width="0.6"/>
<line x1="450.4" y1="339.6" x2="450.4" y2="348.8" stroke="#c4c4c4" stroke-width="0.6"/>
<line x1="452.8" y1="339.6" x2="452.8" y2="348.8" stroke="#c4c4c4" stroke-width="0.6"/>
<line x1="455.2" y1="339.6" x2="455.2" y2="348.8" stroke="#c4c4c4" stroke-width="0.6"/>
<line x1="457.6" y1="339.6" x2="457.6" y2="348.8" stroke="#c4c4c4" stroke-width="0.6"/>
<line x1="460.0" y1="339.6" x2="460.0" y2="348.8" stroke="#c4c4c4" stroke-width="0.6"/>
<line x1="462.4" y1="339.6" x2="462.4" y2="348.8" stroke="#c4c4c4" stroke-width="0.6"/>
<line x1="464.8" y1="339.6" x2="464.8" y2="348.8" stroke="#c4c4c4" stroke-width="0.6"/>
<line x1="445.6" y1="339.6" x2="466" y2="339.6" stroke="#c4c4c4" stroke-width="0.6"/>
<path d="M466.6 325.6 H482.6 M466.6 325.6 V349 M466.6 349 Q470 336 482.6 330 M466.6 349 Q474 340 482.6 338 M466.6 349 Q468 332 476 326" fill="none" stroke="#c4c4c4" stroke-width="0.6" />
<path d="M497.2 348.6 V340.6 Q497.2 337 500.4 337 Q503.6 337 503.6 340.6 V348.6 Z" fill="none" stroke="#555" stroke-width="0.6" />
<line x1="497.2" y1="345.6" x2="503.6" y2="345.6" stroke="#555" stroke-width="0.5"/>
<rect x="493" y="326" width="15.4" height="6" fill="none" stroke="#c4c4c4" stroke-width="0.5"/>
<ellipse cx="516" cy="328.5" rx="3.3" ry="3.9" fill="none" stroke="#555" stroke-width="0.6"/>
<circle cx="516" cy="328.5" r="0.6" fill="#555"/>
<rect x="512.6" y="336.6" width="7.6" height="5.6" rx="1.8" fill="none" stroke="#444" stroke-width="0.9"/>
<line x1="539.7" y1="307" x2="539.7" y2="349" stroke="#2e2e2e" stroke-width="0.8"/>
<rect x="539.40" y="318.20" width="12.80" height="1.80" fill="#000" />
<path d="M545.6 349 v-2.6 m-1.3 1.3 h2.6" fill="none" stroke="#333" stroke-width="0.5" />
<path d="M539.2 312 L535.4 315 L539.2 318" fill="none" stroke="#444" stroke-width="0.6" />
</g>
<g id="rdc-text">
<text x="210.00" y="283.60" font-size="6.4" font-weight="bold" font-style="normal" fill="#000" textLength="21.00" lengthAdjust="spacingAndGlyphs"  stroke="#000" stroke-width="0.32">PETIT</text>
<text x="205.00" y="291.60" font-size="6.4" font-weight="bold" font-style="normal" fill="#000" textLength="31.00" lengthAdjust="spacingAndGlyphs"  stroke="#000" stroke-width="0.32">SALON /</text>
<text x="206.60" y="299.60" font-size="6.4" font-weight="bold" font-style="normal" fill="#000" textLength="28.40" lengthAdjust="spacingAndGlyphs"  stroke="#000" stroke-width="0.32">BUREAU</text>
<text x="204.00" y="307.60" font-size="6.4" font-weight="bold" font-style="normal" fill="#000" textLength="34.00" lengthAdjust="spacingAndGlyphs"  stroke="#000" stroke-width="0.32">OU S.A.M</text>
<text x="210.30" y="315.60" font-size="6.4" font-weight="bold" font-style="normal" fill="#000" textLength="21.40" lengthAdjust="spacingAndGlyphs"  stroke="#000" stroke-width="0.32">25 M2</text>
<text x="270.00" y="254.40" font-size="6.4" font-weight="bold" font-style="normal" fill="#000" textLength="38.40" lengthAdjust="spacingAndGlyphs"  stroke="#000" stroke-width="0.32">BUANDERIE</text>
<text x="281.80" y="261.40" font-size="6.4" font-weight="bold" font-style="normal" fill="#000" textLength="13.20" lengthAdjust="spacingAndGlyphs"  stroke="#000" stroke-width="0.32">4 M2</text>
<text x="271.00" y="281.70" font-size="6.4" font-weight="bold" font-style="normal" fill="#000" textLength="32.30" lengthAdjust="spacingAndGlyphs"  stroke="#000" stroke-width="0.32">COULOIR</text>
<text x="278.80" y="289.40" font-size="6.4" font-weight="bold" font-style="normal" fill="#000" textLength="16.20" lengthAdjust="spacingAndGlyphs"  stroke="#000" stroke-width="0.32">6 M2</text>
<text x="266.70" y="322.00" font-size="6.4" font-weight="bold" font-style="normal" fill="#000" textLength="30.80" lengthAdjust="spacingAndGlyphs"  stroke="#000" stroke-width="0.32">CUISINE</text>
<text x="271.70" y="330.00" font-size="6.4" font-weight="bold" font-style="normal" fill="#000" textLength="20.00" lengthAdjust="spacingAndGlyphs"  stroke="#000" stroke-width="0.32">10 M2</text>
<text x="359.60" y="292.70" font-size="6.4" font-weight="bold" font-style="normal" fill="#000" textLength="28.20" lengthAdjust="spacingAndGlyphs"  stroke="#000" stroke-width="0.32">SÉJOUR</text>
<text x="362.70" y="300.70" font-size="6.4" font-weight="bold" font-style="normal" fill="#000" textLength="21.70" lengthAdjust="spacingAndGlyphs"  stroke="#000" stroke-width="0.32">35 M2</text>
<text x="430.80" y="274.60" font-size="6.4" font-weight="bold" font-style="normal" fill="#000" textLength="41.70" lengthAdjust="spacingAndGlyphs"  stroke="#000" stroke-width="0.32">CHAMBRE 1</text>
<text x="441.70" y="282.60" font-size="6.4" font-weight="bold" font-style="normal" fill="#000" textLength="20.80" lengthAdjust="spacingAndGlyphs"  stroke="#000" stroke-width="0.32">13 M2</text>
<text x="500.80" y="273.40" font-size="6.4" font-weight="bold" font-style="normal" fill="#000" textLength="42.50" lengthAdjust="spacingAndGlyphs"  stroke="#000" stroke-width="0.32">CHAMBRE 2</text>
<text x="511.70" y="281.40" font-size="6.4" font-weight="bold" font-style="normal" fill="#000" textLength="20.80" lengthAdjust="spacingAndGlyphs"  stroke="#000" stroke-width="0.32">13 M2</text>
<text x="444.20" y="323.00" font-size="6.4" font-weight="bold" font-style="normal" fill="#000" textLength="29.10" lengthAdjust="spacingAndGlyphs"  stroke="#000" stroke-width="0.32">ENTRÉE</text>
<text x="450.80" y="331.40" font-size="6.4" font-weight="bold" font-style="normal" fill="#000" textLength="15.90" lengthAdjust="spacingAndGlyphs"  stroke="#000" stroke-width="0.32">8 M2</text>
<text x="494.20" y="335.80" font-size="6.4" font-weight="bold" font-style="normal" fill="#000" textLength="12.10" lengthAdjust="spacingAndGlyphs"  stroke="#000" stroke-width="0.32">WC</text>
<text x="522.00" y="328.80" font-size="6.4" font-weight="bold" font-style="normal" fill="#000" textLength="14.30" lengthAdjust="spacingAndGlyphs"  stroke="#000" stroke-width="0.32">SDB</text>
<text x="520.80" y="336.80" font-size="6.4" font-weight="bold" font-style="normal" fill="#000" textLength="16.70" lengthAdjust="spacingAndGlyphs"  stroke="#000" stroke-width="0.32">7 M2</text>
</g>
<g id="annexe">
<rect x="639.60" y="160.10" width="61.60" height="6.20" fill="#000" />
<rect x="639.60" y="160.00" width="2.60" height="119.20" fill="#000" />
<rect x="695.60" y="160.00" width="5.60" height="53.00" fill="#000" />
<rect x="696.80" y="213.00" width="4.40" height="66.20" fill="#000" />
<rect x="639.60" y="211.00" width="57.40" height="2.60" fill="#000" />
<rect x="639.60" y="277.20" width="136.20" height="2.00" fill="#000" />
<rect x="701.2" y="161.6" width="73.9" height="116.9" fill="none" stroke="#000" stroke-width="1.4"/>
<line x1="701.4" y1="212.3" x2="775" y2="212.3" stroke="#7da7e0" stroke-width="0.8"/>
<rect x="670.60" y="159.80" width="3.40" height="6.20" fill="#fff" />
<rect x="670.8" y="160.2" width="3" height="5.6" fill="#fff" stroke="#9a9a9a" stroke-width="0.4"/>
<text x="667.85" y="181.80" font-size="7.3" font-weight="bold" font-style="normal" fill="#000" text-anchor="middle" >GRENIER</text>
<text x="667.95" y="191.00" font-size="7.3" font-weight="bold" font-style="normal" fill="#000" text-anchor="middle" >25 M2</text>
<text x="658.00" y="198.80" font-size="6.5" font-weight="normal" font-style="normal" fill="#151515" textLength="21.20" lengthAdjust="spacingAndGlyphs"  stroke="#151515" stroke-width="0.15">(au sol)</text>
<text x="731.80" y="189.00" font-size="6.4" font-weight="normal" font-style="normal" fill="#151515" textLength="13.40" lengthAdjust="spacingAndGlyphs"  stroke="#151515" stroke-width="0.12">Vide</text>
<text x="660.50" y="241.80" font-size="6.4" font-weight="normal" font-style="normal" fill="#151515" textLength="12.50" lengthAdjust="spacingAndGlyphs"  stroke="#151515" stroke-width="0.12">Vide</text>
<text x="738.60" y="240.70" font-size="7.3" font-weight="bold" font-style="normal" fill="#000" text-anchor="middle" >GRENIER</text>
<text x="738.60" y="249.50" font-size="7.3" font-weight="bold" font-style="normal" fill="#000" text-anchor="middle" >47 M2</text>
<text x="728.00" y="257.30" font-size="6.5" font-weight="normal" font-style="normal" fill="#151515" textLength="21.80" lengthAdjust="spacingAndGlyphs"  stroke="#151515" stroke-width="0.15">(au sol)</text>
<rect x="639.60" y="300.50" width="62.00" height="7.50" fill="#000" />
<rect x="639.60" y="300.50" width="2.30" height="120.70" fill="#000" />
<rect x="697.60" y="300.50" width="4.00" height="120.70" fill="#000" />
<rect x="696.30" y="300.50" width="5.30" height="54.70" fill="#000" />
<rect x="639.60" y="352.60" width="58.00" height="2.60" fill="#000" />
<rect x="654.40" y="391.90" width="43.20" height="1.80" fill="#000" />
<rect x="639.60" y="419.00" width="137.40" height="2.20" fill="#000" />
<rect x="701.6" y="301.7" width="74.7" height="118.7" fill="none" stroke="#000" stroke-width="1.5"/>
<rect x="723.60" y="300.40" width="29.20" height="2.60" fill="#fff" />
<line x1="723.6" y1="301.6" x2="752.8" y2="301.6" stroke="#c4c4c4" stroke-width="0.6"/>
<rect x="676.00" y="300.30" width="3.40" height="7.90" fill="#fff" />
<rect x="676.2" y="300.8" width="3" height="7" fill="#fff" stroke="#9a9a9a" stroke-width="0.4"/>
<rect x="674.2" y="308" width="7.4" height="3.8" fill="#fff" stroke="#9a9a9a" stroke-width="0.5"/>
<rect x="642" y="308.4" width="5" height="7.2" fill="#fff" stroke="#9a9a9a" stroke-width="0.5"/>
<rect x="639.40" y="358.80" width="2.70" height="7.60" fill="#fff" />
<path d="M641.60 358.80 L649.40 358.80 A7.8 7.8 0 0 1 641.60 366.60" fill="none" stroke="#9a9a9a" stroke-width="0.6" />
<rect x="670.60" y="418.60" width="5.80" height="3.00" fill="#fff" />
<text x="670.45" y="330.30" font-size="7.3" font-weight="bold" font-style="normal" fill="#000" text-anchor="middle" >ATELIER 1</text>
<text x="670.50" y="339.00" font-size="7.3" font-weight="bold" font-style="normal" fill="#000" text-anchor="middle" >25 M2</text>
<text x="670.30" y="378.70" font-size="7.3" font-weight="bold" font-style="normal" fill="#000" text-anchor="middle" >ATELIER 2</text>
<text x="670.25" y="387.60" font-size="7.3" font-weight="bold" font-style="normal" fill="#000" text-anchor="middle" >34 M2</text>
<text x="738.60" y="358.10" font-size="7.3" font-weight="bold" font-style="normal" fill="#000" text-anchor="middle" >GARAGE</text>
<text x="739.00" y="366.90" font-size="7.3" font-weight="bold" font-style="normal" fill="#000" text-anchor="middle" >89 M2</text>
</g>
<g id="map">
<defs><filter id="sh" x="-5%" y="-5%" width="112%" height="115%"><feGaussianBlur stdDeviation="1.1"/></filter></defs>
<rect x="606" y="21.5" width="170.5" height="133" fill="#8a8a8a" filter="url(#sh)" opacity="0.75"/>
<rect x="604.2" y="19.2" width="169" height="132.6" fill="#e0efd7"/>
<path d="M692.5 40 L756.7 44.2 L760 105 V109.4 H721.8 V144 H670.3 L656 104 Z" fill="#a5d6a0" stroke="none" stroke-width="1" />
<path d="M712 105 H760 V109.4 H721.8 V113.8 H712 Z" fill="#d3dccb" stroke="none" stroke-width="1" />
<path d="M681 113.8 H721.8 V142 H700 V133.6 H688.4 L681 120.6 Z" fill="#d3d3c6" stroke="none" stroke-width="1" />
<path d="M680 104.6 H691.8 V100.8 Q691.8 99.6 693 99.6 H699.3 Q700.5 99.6 700.5 100.8 V104.6 H710.2 Q711.4 104.6 711.4 105.8 V112.8 Q711.4 114 710.2 114 H680 Q678.7 114 678.7 112.8 V105.8 Q678.7 104.6 680 104.6 Z" fill="#eef4e6" stroke="#a2b394" stroke-width="0.9" />
<rect x="680" y="94.2" width="8" height="5.4" fill="#ddd8c4" stroke="#c8c3ae" stroke-width="0.3"/>
<rect x="700.3" y="123.2" width="8.4" height="17.8" fill="#f4f8ee" stroke="#777c6e" stroke-width="0.7"/>
<rect x="700" y="122.8" width="9" height="1.5" fill="#3a3a3a"/>
<rect x="708.9" y="123.2" width="10.8" height="17.8" fill="#d0d0d8" stroke="#8a8f80" stroke-width="0.7"/>
<circle cx="718.3" cy="51.7" r="6.6" fill="#4e8e3c"/>
<circle cx="714.6" cy="50" r="3.6" fill="#4e8e3c"/>
<circle cx="721.8" cy="49.6" r="3.8" fill="#4e8e3c"/>
<circle cx="722" cy="54.6" r="3.6" fill="#4e8e3c"/>
<circle cx="715.6" cy="55" r="3.6" fill="#4e8e3c"/>
<circle cx="718.6" cy="46.6" r="3" fill="#4e8e3c"/>
<circle cx="742.5" cy="57.8" r="9" fill="#4e8e3c"/>
<circle cx="736.4" cy="54" r="4.6" fill="#4e8e3c"/>
<circle cx="748.4" cy="53.6" r="4.6" fill="#4e8e3c"/>
<circle cx="749.4" cy="61.6" r="4.4" fill="#4e8e3c"/>
<circle cx="737" cy="62" r="4.4" fill="#4e8e3c"/>
<circle cx="742.8" cy="50.2" r="4" fill="#4e8e3c"/>
<circle cx="743" cy="66" r="3.6" fill="#4e8e3c"/>
<circle cx="726.3" cy="79.8" r="5" fill="#4e8e3c"/>
<circle cx="687.5" cy="85" r="3" fill="#4e8e3c"/>
<circle cx="696.3" cy="82" r="3.4" fill="#4e8e3c"/>
<circle cx="706.3" cy="79.8" r="3" fill="#4e8e3c"/>
<circle cx="715.3" cy="78" r="3.2" fill="#4e8e3c"/>
<circle cx="735.3" cy="86.4" r="3.2" fill="#4e8e3c"/>
<circle cx="671.7" cy="95.1" r="3.1" fill="#4e8e3c"/>
<circle cx="665.9" cy="105.2" r="3.3" fill="#4e8e3c"/>
<circle cx="676" cy="119.4" r="3.1" fill="#4e8e3c"/>
<circle cx="676.4" cy="138.1" r="3.3" fill="#4e8e3c"/>
<circle cx="690.9" cy="139.6" r="3.2" fill="#4e8e3c"/>
<g transform="translate(695.3 70.6) rotate(-16)"><rect x="-10.4" y="-6" width="20.8" height="12" fill="#dccfb8"/><rect x="-8.6" y="-4.2" width="17.2" height="8.4" fill="#59b5ea"/></g>
<defs><marker id="ah" markerWidth="6" markerHeight="6" refX="3.6" refY="3" orient="auto" markerUnits="userSpaceOnUse"><path d="M0 0 L6 3 L0 6 Z" fill="#64a83a"/></marker></defs>
<line x1="673.3" y1="53.7" x2="695.2" y2="69.6" stroke="#64a83a" stroke-width="1.7" marker-end="url(#ah)"/>
<line x1="653.4" y1="108" x2="682" y2="97.6" stroke="#64a83a" stroke-width="1.7" marker-end="url(#ah)"/>
<line x1="728" y1="118.3" x2="696" y2="107.9" stroke="#64a83a" stroke-width="1.7" marker-end="url(#ah)"/>
<line x1="727.7" y1="137.8" x2="715" y2="131.6" stroke="#64a83a" stroke-width="1.7" marker-end="url(#ah)"/>
<text x="653.00" y="30.80" font-size="7.3" font-weight="bold" font-style="normal" fill="#46832a" textLength="29.00" lengthAdjust="spacingAndGlyphs"  stroke="#46832a" stroke-width="0.2">PISCINE</text>
<text x="648.25" y="39.70" font-size="7.3" font-weight="bold" font-style="normal" fill="#46832a" textLength="38.70" lengthAdjust="spacingAndGlyphs"  stroke="#46832a" stroke-width="0.2">CHAUFFÉE</text>
<text x="649.65" y="47.90" font-size="7.3" font-weight="bold" font-style="normal" fill="#46832a" textLength="37.30" lengthAdjust="spacingAndGlyphs"  stroke="#46832a" stroke-width="0.2">10 M X 5 M</text>
<text x="624.00" y="118.30" font-size="7.3" font-weight="bold" font-style="normal" fill="#46832a" textLength="31.20" lengthAdjust="spacingAndGlyphs"  stroke="#46832a" stroke-width="0.2">GRANGE</text>
<text x="621.70" y="127.30" font-size="7.3" font-weight="bold" font-style="normal" fill="#46832a" textLength="35.60" lengthAdjust="spacingAndGlyphs"  stroke="#46832a" stroke-width="0.2">OUVERTE</text>
<text x="734.30" y="123.60" font-size="7.3" font-weight="bold" font-style="normal" fill="#46832a" textLength="28.40" lengthAdjust="spacingAndGlyphs"  stroke="#46832a" stroke-width="0.2">MAISON</text>
<text x="732.00" y="140.50" font-size="7.3" font-weight="bold" font-style="normal" fill="#46832a" textLength="35.20" lengthAdjust="spacingAndGlyphs"  stroke="#46832a" stroke-width="0.2">ANNEXES</text>
<g transform="translate(639.2 68.6) rotate(27)">
<circle r="17.4" fill="none" stroke="#1c1c1c" stroke-width="2.2" stroke-dasharray="1.5 0.5"/>
<circle r="13.3" fill="none" stroke="#2a2a2a" stroke-width="0.6"/>
<circle r="9.4" fill="none" stroke="#2a2a2a" stroke-width="1.1" stroke-dasharray="0.8 0.5"/>
<circle r="6.4" fill="none" stroke="#444" stroke-width="0.4"/>
<g transform="rotate(45)"><path d="M0 -10.6 L1.9 -1.9 L0 0 Z" fill="#1a1a1a"/><path d="M0 -10.6 L-1.9 -1.9 L0 0 Z" fill="#8c8c8c" stroke="#1a1a1a" stroke-width="0.3"/></g>
<g transform="rotate(135)"><path d="M0 -10.6 L1.9 -1.9 L0 0 Z" fill="#1a1a1a"/><path d="M0 -10.6 L-1.9 -1.9 L0 0 Z" fill="#8c8c8c" stroke="#1a1a1a" stroke-width="0.3"/></g>
<g transform="rotate(225)"><path d="M0 -10.6 L1.9 -1.9 L0 0 Z" fill="#1a1a1a"/><path d="M0 -10.6 L-1.9 -1.9 L0 0 Z" fill="#8c8c8c" stroke="#1a1a1a" stroke-width="0.3"/></g>
<g transform="rotate(315)"><path d="M0 -10.6 L1.9 -1.9 L0 0 Z" fill="#1a1a1a"/><path d="M0 -10.6 L-1.9 -1.9 L0 0 Z" fill="#8c8c8c" stroke="#1a1a1a" stroke-width="0.3"/></g>
<g transform="rotate(0)"><path d="M0 -16.2 L2.5 -2.5 L0 0 Z" fill="#0c0c0c"/><path d="M0 -16.2 L-2.5 -2.5 L0 0 Z" fill="#b5b5b5" stroke="#0c0c0c" stroke-width="0.4"/><circle cx="0" cy="-17.6" r="1.5" fill="#1c1c1c"/><circle cx="0" cy="-17.6" r="0.5" fill="#cfd8c8"/></g>
<g transform="rotate(90)"><path d="M0 -16.2 L2.5 -2.5 L0 0 Z" fill="#0c0c0c"/><path d="M0 -16.2 L-2.5 -2.5 L0 0 Z" fill="#b5b5b5" stroke="#0c0c0c" stroke-width="0.4"/><circle cx="0" cy="-17.6" r="1.5" fill="#1c1c1c"/><circle cx="0" cy="-17.6" r="0.5" fill="#cfd8c8"/></g>
<g transform="rotate(180)"><path d="M0 -16.2 L2.5 -2.5 L0 0 Z" fill="#0c0c0c"/><path d="M0 -16.2 L-2.5 -2.5 L0 0 Z" fill="#b5b5b5" stroke="#0c0c0c" stroke-width="0.4"/><circle cx="0" cy="-17.6" r="1.5" fill="#1c1c1c"/><circle cx="0" cy="-17.6" r="0.5" fill="#cfd8c8"/></g>
<g transform="rotate(270)"><path d="M0 -16.2 L2.5 -2.5 L0 0 Z" fill="#0c0c0c"/><path d="M0 -16.2 L-2.5 -2.5 L0 0 Z" fill="#b5b5b5" stroke="#0c0c0c" stroke-width="0.4"/><circle cx="0" cy="-17.6" r="1.5" fill="#1c1c1c"/><circle cx="0" cy="-17.6" r="0.5" fill="#cfd8c8"/></g>
<circle r="1.5" fill="#ddd" stroke="#222" stroke-width="0.6"/>
</g>
<path d="M615.8 55.7 L620.6 56.1 L618.5 59.7 Z" fill="#e0161f" stroke="none" stroke-width="1" />
</g>
</svg></body></html>
